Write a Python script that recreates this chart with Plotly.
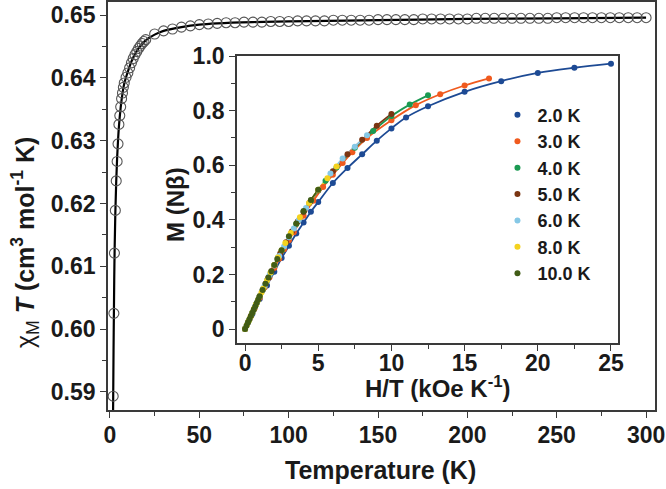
import plotly.graph_objects as go

# ---------------- main panel data: chi_M T vs T ----------------
T_data = [1.8, 2.2, 2.5, 3.0, 3.5, 4.0, 4.5, 5.0, 5.5, 6.0, 6.5, 7.0, 7.5, 8.0, 9, 10, 11, 12, 13, 14, 15, 16, 17, 18, 19, 20,
          25, 30, 35, 40, 45, 50, 55, 60, 65, 70, 75, 80, 85, 90, 95, 100, 105, 110, 115, 120, 125, 130, 135, 140,
          145, 150, 155, 160, 165, 170, 175, 180, 185, 190, 195, 200, 205, 210, 215, 220, 225, 230, 235, 240, 245,
          250, 255, 260, 265, 270, 275, 280, 285, 290, 295, 300]
chiT_data = [0.5893, 0.6025, 0.6121, 0.6189, 0.6236, 0.6267, 0.6295, 0.6326, 0.6340, 0.6354, 0.6367, 0.6376, 0.6385, 0.6392,
             0.6401, 0.6408, 0.6416, 0.6424, 0.6431, 0.6437, 0.6442, 0.6447, 0.6451, 0.6455, 0.6458, 0.6461,
             0.6470, 0.6475, 0.6478, 0.6481, 0.6483, 0.6485, 0.6486, 0.6487, 0.6488, 0.6488, 0.6489, 0.6489, 0.6489,
             0.6490, 0.6490, 0.6490, 0.6491, 0.6491, 0.6491, 0.6491, 0.6492, 0.6492, 0.6492, 0.6492, 0.6492, 0.6493,
             0.6493, 0.6493, 0.6493, 0.6493, 0.6494, 0.6494, 0.6494, 0.6494, 0.6494, 0.6494, 0.6495, 0.6495, 0.6495,
             0.6495, 0.6495, 0.6495, 0.6495, 0.6495, 0.6495, 0.6496, 0.6496, 0.6496, 0.6496, 0.6496, 0.6496, 0.6496,
             0.6496, 0.6496, 0.6496, 0.6496]
T_fit = [1.3, 1.5, 1.8, 2.0, 2.2, 2.5, 3.0, 3.5, 4.0, 4.5, 5, 6, 7, 8, 10, 12, 14, 16, 18, 20, 25, 30, 40, 50, 60, 80,
         100, 150, 200, 250, 300]
chiT_fit = [0.5720, 0.5790, 0.5888, 0.5965, 0.6025, 0.6105, 0.6185, 0.6235, 0.6272, 0.6300, 0.6322, 0.6353, 0.6375,
            0.6391, 0.6410, 0.6426, 0.6438, 0.6447, 0.6454, 0.6460, 0.6469, 0.6475, 0.6481, 0.6485, 0.6487, 0.6489,
            0.6490, 0.6492, 0.6494, 0.6495, 0.6496]

# ---------------- inset data: M vs H/T ----------------
fields_kOe = [0, 1, 2, 3, 4, 5, 6, 7, 8, 9, 10, 12, 14, 16, 18, 20, 22, 25, 30, 35, 40, 45, 50]
temps_K = [2.0, 3.0, 4.0, 5.0, 6.0, 8.0, 10.0]
labels = ["2.0 K", "3.0 K", "4.0 K", "5.0 K", "6.0 K", "8.0 K", "10.0 K"]
colors = ["#1d4a94", "#f05a1e", "#1b9a52", "#7a3512", "#86c8e6", "#f4d21e", "#415c16"]
M_2K = [0, 0.055, 0.11, 0.16, 0.21, 0.26, 0.305, 0.35, 0.39, 0.43, 0.465, 0.535, 0.59, 0.64, 0.69, 0.735, 0.775,
        0.816, 0.869, 0.908, 0.938, 0.957, 0.972]
M_3K = [0, 0.039, 0.077, 0.115, 0.152, 0.189, 0.224, 0.258, 0.292, 0.325, 0.355, 0.415, 0.47, 0.52, 0.565, 0.608,
        0.648, 0.70, 0.765, 0.82, 0.86, 0.892, 0.918]
M_4K = [0, 0.03, 0.06, 0.09, 0.12, 0.149, 0.178, 0.206, 0.234, 0.261, 0.288, 0.338, 0.385, 0.43, 0.47, 0.508, 0.543,
        0.592, 0.664, 0.725, 0.78, 0.822, 0.856]
M_5K = [0, 0.024, 0.048, 0.072, 0.096, 0.12, 0.143, 0.166, 0.189, 0.212, 0.234, 0.277, 0.318, 0.357, 0.394, 0.43,
        0.462, 0.508, 0.578, 0.64, 0.693, 0.745, 0.788]
M_6K = [0, 0.02, 0.04, 0.06, 0.08, 0.1, 0.12, 0.139, 0.158, 0.177, 0.196, 0.233, 0.268, 0.302, 0.336, 0.368, 0.399,
        0.443, 0.51, 0.57, 0.625, 0.668, 0.71]
M_8K = [0, 0.015, 0.03, 0.045, 0.06, 0.075, 0.09, 0.105, 0.12, 0.134, 0.149, 0.178, 0.207, 0.235, 0.262, 0.289,
        0.315, 0.352, 0.41, 0.462, 0.51, 0.552, 0.595]
M_10K = [0, 0.012, 0.024, 0.036, 0.048, 0.06, 0.072, 0.084, 0.096, 0.108, 0.12, 0.143, 0.166, 0.189, 0.212, 0.235,
         0.257, 0.289, 0.34, 0.387, 0.432, 0.473, 0.51]
M_all = [M_2K, M_3K, M_4K, M_5K, M_6K, M_8K, M_10K]

main_yticks = [0.59, 0.60, 0.61, 0.62, 0.63, 0.64, 0.65]
main_yticktext = ["0.59", "0.60", "0.61", "0.62", "0.63", "0.64", "0.65"]
inset_yticks = [0, 0.2, 0.4, 0.6, 0.8, 1.0]
inset_yticktext = ["0", "0.2", "0.4", "0.6", "0.8", "1.0"]

FONT = "Liberation Sans, Arial, sans-serif"
AX = "#3a3a3a"
TXT = "#1a1a1a"

fig = go.Figure()

fig.add_trace(go.Scatter(x=T_fit, y=chiT_fit, mode="lines", line=dict(color="black", width=2.2, shape="spline"),
                         showlegend=False, xaxis="x", yaxis="y"))
fig.add_trace(go.Scatter(x=T_data, y=chiT_data, mode="markers",
                         marker=dict(symbol="circle-open", size=10, color="#555555", line=dict(width=1.1)),
                         showlegend=False, xaxis="x", yaxis="y"))

for T, lab, col, M in zip(temps_K, labels, colors, M_all):
    xs = [f / T for f in fields_kOe]
    fig.add_trace(go.Scatter(x=xs, y=M, mode="lines", line=dict(color=col, width=1.8, shape="spline"),
                             showlegend=False, xaxis="x2", yaxis="y2", hoverinfo="skip"))
for T, lab, col, M in zip(temps_K, labels, colors, M_all):
    xs = [f / T for f in fields_kOe]
    fig.add_trace(go.Scatter(x=xs, y=M, mode="markers", marker=dict(color=col, size=6),
                             name=lab, showlegend=True, xaxis="x2", yaxis="y2"))

tickfont = dict(family=FONT, size=23, color=TXT, weight="bold")
axis_common = dict(showline=True, linecolor=AX, linewidth=1.6, mirror=True, ticks="outside", ticklen=6,
                   tickwidth=1.4, tickcolor=AX, showgrid=False, zeroline=False, tickfont=tickfont, automargin=False)

fig.update_layout(
    width=666, height=489,
    margin=dict(l=108, r=11, t=2, b=79, autoexpand=False),
    paper_bgcolor="white", plot_bgcolor="white",
    xaxis=dict(range=[-1.1, 305], tickvals=[0, 50, 100, 150, 200, 250, 300], ticklabelstandoff=-2,
               minor=dict(tickvals=[25, 75, 125, 175, 225, 275], ticks="outside", ticklen=4, tickcolor=AX, tickwidth=1.2),
               domain=[0, 1], **axis_common),
    yaxis=dict(range=[0.5871, 0.6521], tickvals=main_yticks, ticktext=main_yticktext,
               minor=dict(tickvals=[0.595, 0.605, 0.615, 0.625, 0.635, 0.645], ticks="outside", ticklen=4, tickcolor=AX,
                          tickwidth=1.2),
               domain=[0, 1], **axis_common),
    xaxis2=dict(range=[-0.55, 25.48], tickvals=[0, 5, 10, 15, 20, 25], ticklabelstandoff=-7,
                minor=dict(tickvals=[2.5, 7.5, 12.5, 17.5, 22.5], ticks="outside", ticklen=4, tickcolor=AX, tickwidth=1.2),
                domain=[0.2358, 0.9324], anchor="y2", **axis_common),
    yaxis2=dict(range=[-0.051, 1.0], tickvals=inset_yticks, ticktext=inset_yticktext,
                minor=dict(tickvals=[0.1, 0.3, 0.5, 0.7, 0.9], ticks="outside", ticklen=4, tickcolor=AX, tickwidth=1.2),
                domain=[0.1642, 0.8676], anchor="x2", **axis_common),
    legend=dict(x=0.712, y=0.768, xanchor="left", yanchor="top", bgcolor="rgba(0,0,0,0)",
                font=dict(family=FONT, size=18, color=TXT, weight="bold"), tracegroupgap=0, itemwidth=30),
    showlegend=True,
)

fig.add_annotation(text="<b>Temperature (K)</b>", xref="paper", yref="paper", x=(380 - 108) / 547, y=(410 - 470) / 408,
                   xanchor="center", yanchor="middle", showarrow=False, font=dict(family=FONT, size=25, color=TXT))
fig.add_annotation(text="χ<sub>M</sub> <b><i>T</i> (cm<sup>3</sup> mol<sup>-1</sup> K)</b>", xref="paper", yref="paper",
                   x=(25 - 108) / 547, y=(410 - 243) / 408, xanchor="center", yanchor="middle", textangle=-90,
                   showarrow=False, font=dict(family=FONT, size=25, color=TXT))
fig.add_annotation(text="<b>H/T (kOe K<sup>-1</sup>)</b>", xref="paper", yref="paper", x=(438 - 108) / 547,
                   y=(410 - 387) / 408, xanchor="center", yanchor="middle", showarrow=False,
                   font=dict(family=FONT, size=24, color=TXT))
fig.add_annotation(text="<b>M (Nβ)</b>", xref="paper", yref="paper", x=(175 - 108) / 547, y=(410 - 205) / 408,
                   xanchor="center", yanchor="middle", textangle=-90, showarrow=False,
                   font=dict(family=FONT, size=24, color=TXT))

fig.write_html("out.html", config={"displayModeBar": False},
               post_script="document.body.style.margin='0';document.body.style.overflow='hidden';")
